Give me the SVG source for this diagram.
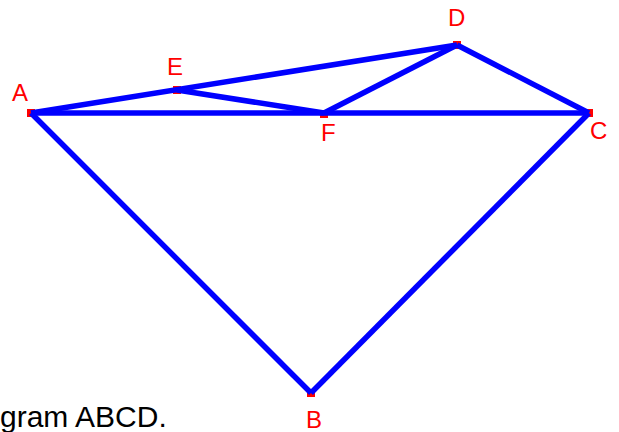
<svg xmlns="http://www.w3.org/2000/svg" width="619" height="432" viewBox="0 0 619 432">
<style>
.pt{fill:#ff0000}
.lb{fill:#ff0000;font-family:"Liberation Sans",Arial,sans-serif;font-size:24px}
.ln{stroke:#0000ff;stroke-width:5.5;fill:none;stroke-linecap:butt}
.cap{fill:#000000;font-family:"Liberation Sans",Arial,sans-serif;font-size:30px}
</style>
<rect width="619" height="432" fill="#ffffff"/>
<g id="A"><rect class="pt" x="27" y="109" width="8" height="8"/><text class="lb" x="12" y="101">A</text></g>
<g id="B"><rect class="pt" x="307" y="389" width="8" height="8"/><text class="lb" x="306" y="428">B</text></g>
<g id="C"><rect class="pt" x="585" y="109" width="8" height="8"/><text class="lb" x="590" y="139">C</text></g>
<g id="D"><rect class="pt" x="453" y="41" width="8" height="8"/><text class="lb" x="448" y="26">D</text></g>
<g id="E"><rect class="pt" x="173" y="86" width="8" height="8"/><text class="lb" x="167" y="75">E</text></g>
<g id="F"><rect class="pt" x="320" y="110" width="8" height="8"/><text class="lb" x="321" y="141">F</text></g>
<g id="connectors">
<line class="ln" x1="31" y1="113" x2="457" y2="45"/>
<line class="ln" x1="31" y1="113" x2="589" y2="113"/>
<line class="ln" x1="31" y1="113" x2="311" y2="393"/>
<line class="ln" x1="311" y1="393" x2="589" y2="113"/>
<line class="ln" x1="457" y1="45" x2="589" y2="113"/>
<line class="ln" x1="457" y1="45" x2="324" y2="113"/>
<line class="ln" x1="177" y1="90" x2="324" y2="113"/>
</g>
<text class="cap" x="0" y="427">gram ABCD.</text>
</svg>
